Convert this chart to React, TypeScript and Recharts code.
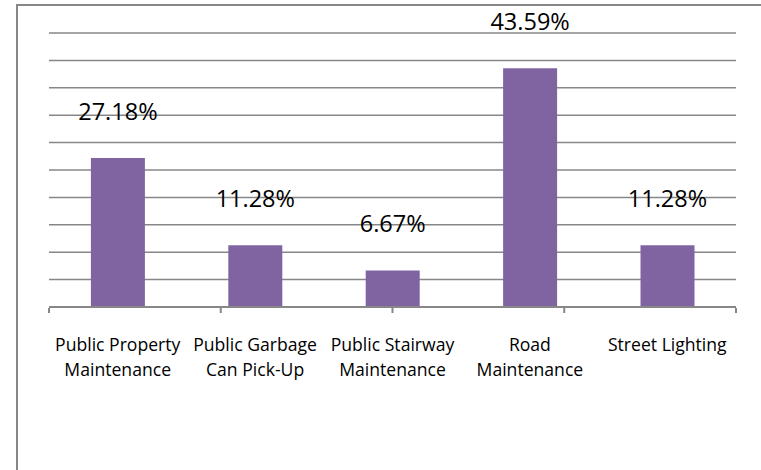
import React from 'react';
import { BarChart, Bar, XAxis, YAxis, CartesianGrid, LabelList, Text } from 'recharts';

const categories = [
  'Public Property Maintenance',
  'Public Garbage Can Pick-Up',
  'Public Stairway Maintenance',
  'Road Maintenance',
  'Street Lighting',
];
const percentages = [27.18, 11.28, 6.67, 43.59, 11.28];
const yTicks = [0, 5, 10, 15, 20, 25, 30, 35, 40, 45, 50];
const boundaryTicks = [0, 1, 2, 3, 4, 5];

const data = categories.map((name, i) => ({ name, value: percentages[i] }));

const FONT = '"Open Sans", sans-serif';

const CategoryTick = (props: any) => {
  const { x, y, payload } = props;
  return (
    <Text
      x={x}
      y={y}
      width={134}
      textAnchor="middle"
      verticalAnchor="start"
      lineHeight={25}
      style={{ fontSize: 17.6, fontFamily: FONT }}
      fontSize={17.6}
      fontFamily={FONT}
      fill="#000"
    >
      {payload.value}
    </Text>
  );
};

const NoTick = () => null;

export default function App() {
  return (
    <div style={{ position: 'absolute', left: 0, top: 0, width: 761, height: 470, overflow: 'hidden', background: '#fff' }}>
      <div
        style={{
          position: 'absolute',
          left: 16,
          top: 4,
          width: 800,
          height: 520,
          borderLeft: '2px solid #878787',
          borderTop: '2px solid #878787',
          boxSizing: 'border-box',
        }}
      />
      <div style={{ position: 'absolute', left: 0, top: 0 }}>
        <BarChart
          width={761}
          height={470}
          data={data}
          margin={{ top: 33, right: 25, bottom: 161, left: 49 }}
          barCategoryGap="30.5%"
        >
          <CartesianGrid horizontal vertical={false} stroke="#878787" strokeWidth={1.5} />
          <YAxis hide domain={[0, 50]} ticks={yTicks} type="number" />
          <XAxis
            dataKey="name"
            type="category"
            interval={0}
            height={1}
            axisLine={{ stroke: '#878787', strokeWidth: 2 }}
            tickLine={false}
            tickSize={6}
            tickMargin={26}
            tick={<CategoryTick />}
          />
          <XAxis
            xAxisId="bounds"
            type="number"
            domain={[0, 5]}
            ticks={boundaryTicks}
            height={1}
            tick={<NoTick />}
            tickSize={5}
            axisLine={false}
            tickLine={{ stroke: '#878787', strokeWidth: 2 }}
          />
          <Bar dataKey="value" fill="#8064A2" isAnimationActive={false}>
            <LabelList
              dataKey="value"
              position="top"
              offset={38}
              formatter={(v: any) => `${Number(v).toFixed(2)}%`}
              style={{ fontSize: 23.5, fontFamily: FONT, fill: '#000' }}
            />
          </Bar>
        </BarChart>
      </div>
    </div>
  );
}
